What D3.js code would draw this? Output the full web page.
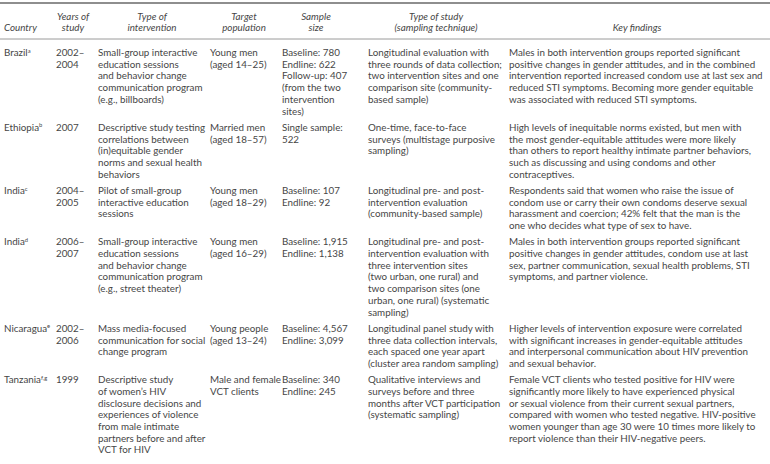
<!DOCTYPE html>
<html><head><meta charset="utf-8">
<script src="https://cdn.jsdelivr.net/npm/d3@7"></script>
<style>body{margin:0;background:#fff}</style>
</head><body>
<svg id="c" width="770" height="464"></svg>
<script>
// ---- data ----
const headers = [["","Country"],["Years of","study"],["Type of","intervention"],["Target","population"],["Sample","size"],["Type of study","(sampling technique)"],["","Key findings"]];
const countries = ["Brazil","Ethiopia","India","India","Nicaragua","Tanzania"];
const notes = ["a","b","c","d","e","f,g"];
const years = [["2002–","2004"],["2007"],["2004–","2005"],["2006–","2007"],["2002–","2006"],["1999"]];
const interventions = [
 ["Small-group interactive","education sessions","and behavior change","communication program","(e.g., billboards)"],
 ["Descriptive study testing","correlations between","(in)equitable gender","norms and sexual health","behaviors"],
 ["Pilot of small-group","interactive education","sessions"],
 ["Small-group interactive","education sessions","and behavior change","communication program","(e.g., street theater)"],
 ["Mass media-focused","communication for social","change program"],
 ["Descriptive study","of women’s HIV","disclosure decisions and","experiences of violence","from male intimate","partners before and after","VCT for HIV"]];
const targets = [["Young men","(aged 14–25)"],["Married men","(aged 18–57)"],["Young men","(aged 18–29)"],["Young men","(aged 16–29)"],["Young people","(aged 13–24)"],["Male and female","VCT clients"]];
const samples = [["Baseline: 780","Endline: 622","Follow-up: 407","(from the two","intervention","sites)"],["Single sample:","522"],["Baseline: 107","Endline: 92"],["Baseline: 1,915","Endline: 1,138"],["Baseline: 4,567","Endline: 3,099"],["Baseline: 340","Endline: 245"]];
const studies = [
 ["Longitudinal evaluation with","three rounds of data collection;","two intervention sites and one","comparison site (community-","based sample)"],
 ["One-time, face-to-face","surveys (multistage purposive","sampling)"],
 ["Longitudinal pre- and post-","intervention evaluation","(community-based sample)"],
 ["Longitudinal pre- and post-","intervention evaluation with","three intervention sites","(two urban, one rural) and","two comparison sites (one","urban, one rural) (systematic","sampling)"],
 ["Longitudinal panel study with","three data collection intervals,","each spaced one year apart","(cluster area random sampling)"],
 ["Qualitative interviews and","surveys before and three","months after VCT participation","(systematic sampling)"]];
const findings = [
 ["Males in both intervention groups reported significant","positive changes in gender attitudes, and in the combined","intervention reported increased condom use at last sex and","reduced STI symptoms. Becoming more gender equitable","was associated with reduced STI symptoms."],
 ["High levels of inequitable norms existed, but men with","the most gender-equitable attitudes were more likely","than others to report healthy intimate partner behaviors,","such as discussing and using condoms and other","contraceptives."],
 ["Respondents said that women who raise the issue of","condom use or carry their own condoms deserve sexual","harassment and coercion; 42% felt that the man is the","one who decides what type of sex to have."],
 ["Males in both intervention groups reported significant","positive changes in gender attitudes, condom use at last","sex, partner communication, sexual health problems, STI","symptoms, and partner violence."],
 ["Higher levels of intervention exposure were correlated","with significant increases in gender-equitable attitudes","and interpersonal communication about HIV prevention","and sexual behavior."],
 ["Female VCT clients who tested positive for HIV were","significantly more likely to have experienced physical","or sexual violence from their current sexual partners,","compared with women who tested negative. HIV-positive","women younger than age 30 were 10 times more likely to","report violence than their HIV-negative peers."]];

// ---- layout ----
const W = 770, H = 464;
const FONT = "Lato, 'Open Sans', sans-serif";
const FS = 9.8;
const LH = 11.7, GAP = 4.6;
const colKeys = ["country","years","intervention","target","sample","study","findings"];
const colX = d3.scaleOrdinal().domain(colKeys).range([4, 56, 98, 210, 282, 368, 509]);
const colEnd = d3.scaleOrdinal().domain(colKeys).range([50, 90, 206, 278, 350, 504, 765]);

const svg = d3.select("#c");
const textColor = "#464646";

// rules
svg.append("line").attr("x1",0).attr("x2",W).attr("y1",3).attr("y2",3).attr("stroke","#8e8e8e").attr("stroke-width",2);
svg.append("line").attr("x1",0).attr("x2",W).attr("y1",39).attr("y2",39).attr("stroke","#9a9a9a").attr("stroke-width",1);

// header
const hY = [19.5, 31];
headers.forEach((h,i)=>{
  const k = colKeys[i];
  h.forEach((t,j)=>{
    if(!t) return;
    const left = i===0;
    svg.append("text")
      .attr("x", left ? colX(k) : (colX(k)+colEnd(k))/2)
      .attr("y", hY[j])
      .attr("text-anchor", left ? "start" : "middle")
      .attr("font-family",FONT).attr("font-size",FS).attr("font-style","italic")
      .attr("fill",textColor).text(t);
  });
});

// rows
const rows = countries.map((c,i)=>({
  country:[c], note:notes[i], years:years[i], intervention:interventions[i], target:targets[i],
  sample:samples[i], study:studies[i], findings:findings[i]
}));
let y0 = 56;
rows.forEach(r=>{
  r.y = y0;
  const n = d3.max(colKeys, k=>r[k].length);
  y0 += n*LH + GAP;
});
const lastY = y0 - GAP;

const g = svg.append("g").attr("font-family",FONT).attr("font-size",FS).attr("fill",textColor);
rows.forEach(r=>{
  colKeys.forEach(k=>{
    r[k].forEach((t,j)=>{
      const tx = g.append("text").attr("x",colX(k)).attr("y",r.y + j*LH).text(t);
      if(k==="country"){
        tx.append("tspan").attr("font-size",5.8).attr("dy",-3.4).text(r.note);
      }
    });
  });
});

svg.append("line").attr("x1",0).attr("x2",W).attr("y1",lastY-LH+12).attr("y2",lastY-LH+12).attr("stroke","#7a7a7a").attr("stroke-width",1.5);
</script>
</body></html>
